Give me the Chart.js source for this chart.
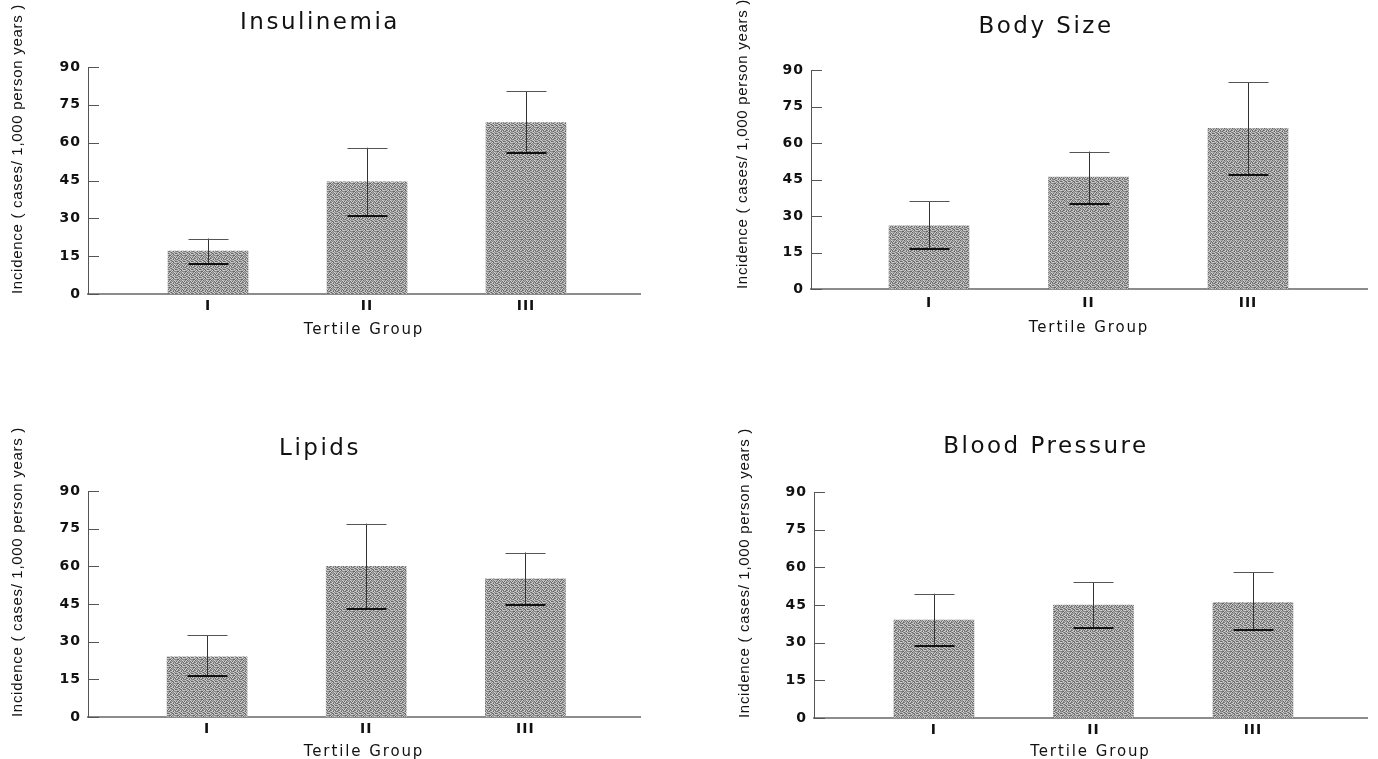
<!DOCTYPE html>
<html>
<head>
<meta charset="utf-8">
<script src="https://cdn.jsdelivr.net/npm/chart.js@4.4.1/dist/chart.umd.min.js"></script>
<style>
  html, body { margin: 0; padding: 0; background: #ffffff; }
  body { width: 1378px; height: 759px; position: relative; overflow: hidden; }
  .panel { position: absolute; }
  #p1 { left: 0px; top: 0px; width: 660px; height: 345px; }
  #p2 { left: 725px; top: 0px; width: 653px; height: 345px; }
  #p3 { left: 0px; top: 420px; width: 660px; height: 339px; }
  #p4 { left: 725px; top: 420px; width: 653px; height: 339px; }
</style>
</head>
<body>
<div class="panel" id="p1"><canvas id="c1"></canvas></div>
<div class="panel" id="p2"><canvas id="c2"></canvas></div>
<div class="panel" id="p3"><canvas id="c3"></canvas></div>
<div class="panel" id="p4"><canvas id="c4"></canvas></div>
<script>
// ---------------- DATA ----------------
const categories = ['I', 'II', 'III'];
const yTickValues = [0, 15, 30, 45, 60, 75, 90];
const yAxisTitle = 'Incidence ( cases/ 1,000 person years )';
const xAxisTitle = 'Tertile Group';

const insulinemiaTitle = 'Insulinemia';
const insulinemiaMean = [17, 44.5, 68];
const insulinemiaLow  = [12, 31, 56];
const insulinemiaHigh = [22, 58, 80.5];

const bodySizeTitle = 'Body Size';
const bodySizeMean = [26, 46, 66];
const bodySizeLow  = [16.5, 35, 47];
const bodySizeHigh = [36, 56.5, 85];

const lipidsTitle = 'Lipids';
const lipidsMean = [24, 60, 55];
const lipidsLow  = [16.5, 43, 44.5];
const lipidsHigh = [32.5, 77, 65.5];

const bloodPressureTitle = 'Blood Pressure';
const bloodPressureMean = [39, 45, 46];
const bloodPressureLow  = [28.5, 36, 35];
const bloodPressureHigh = [49.5, 54, 58];

// ---------------- STYLE HELPERS ----------------
const DITHER = [
  '21302132',
  '03121203',
  '32013120',
  '10232031',
  '23102312',
  '01320130',
  '32213023',
  '10031211'
];
const SHADES = ['#666666', '#888888', '#adadad', '#d0d0d0'];
function makePattern() {
  const c = document.createElement('canvas');
  c.width = 8; c.height = 8;
  const g = c.getContext('2d');
  for (let r = 0; r < 8; r++) {
    for (let k = 0; k < 8; k++) {
      g.fillStyle = SHADES[+DITHER[r][k]];
      g.fillRect(k, r, 1, 1);
    }
  }
  return g.createPattern(c, 'repeat');
}
const barFill = makePattern();

const spacingPlugin = {
  id: 'spacing',
  beforeDraw(chart) {
    const ctx = chart.ctx;
    if (ctx.__patched) return;
    const orig = ctx.fillText;
    ctx.fillText = function (text, x, y, maxWidth) {
      const f = this.font;
      let ls = '0px';
      if (/23px/.test(f)) ls = '2.5px';
      else if (/15px/.test(f) && !/bold/.test(f) && /DejaVu/.test(f)) ls = '1.9px';
      else if (/14px/.test(f) && /bold/.test(f)) ls = '1px';
      else if (/15px/.test(f)) ls = '0.7px';
      this.letterSpacing = ls;
      if (maxWidth === undefined) return orig.call(this, text, x, y);
      return orig.call(this, text, x, y, maxWidth);
    };
    ctx.__patched = true;
  }
};

const errorBarPlugin = {
  id: 'errorBars',
  afterDatasetsDraw(chart) {
    const { ctx, scales: { x, y }, chartArea } = chart;
    const low = chart.options.plugins.errorBars.low;
    const high = chart.options.plugins.errorBars.high;
    ctx.save();
    // inward y tick marks
    ctx.strokeStyle = '#555';
    ctx.lineWidth = 1;
    y.ticks.forEach((t, i) => {
      const py = Math.round(y.getPixelForTick(i)) + 0.5;
      ctx.beginPath();
      ctx.moveTo(chartArea.left, py);
      ctx.lineTo(chartArea.left + 11, py);
      ctx.stroke();
    });
    for (let i = 0; i < categories.length; i++) {
      const cx = Math.round(x.getPixelForValue(i + 1)) + 0.5;
      const yl = y.getPixelForValue(low[i]);
      const yh = y.getPixelForValue(high[i]);
      ctx.strokeStyle = '#333';
      ctx.lineWidth = 1;
      ctx.beginPath();
      ctx.moveTo(cx, yl); ctx.lineTo(cx, yh);
      ctx.stroke();
      ctx.strokeStyle = '#555';
      ctx.beginPath();
      ctx.moveTo(cx - 20, Math.round(yh) + 0.5); ctx.lineTo(cx + 20, Math.round(yh) + 0.5);
      ctx.stroke();
      ctx.strokeStyle = '#111';
      ctx.lineWidth = 2;
      ctx.beginPath();
      ctx.moveTo(cx - 20, Math.round(yl)); ctx.lineTo(cx + 20, Math.round(yl));
      ctx.stroke();
    }
    ctx.restore();
  }
};

function makeChart(id, cfg) {
  const data = categories.map((c, i) => ({ x: i + 1, y: cfg.mean[i] }));
  return new Chart(document.getElementById(id), {
    type: 'bar',
    data: {
      datasets: [{
        data: data,
        backgroundColor: barFill,
        borderWidth: 0,
        barThickness: 80
      }]
    },
    plugins: [spacingPlugin, errorBarPlugin],
    options: {
      responsive: true,
      maintainAspectRatio: false,
      animation: false,
      events: [],
      layout: { padding: { left: 0, right: cfg.padRight, top: 0, bottom: 0 } },
      plugins: {
        legend: { display: false },
        tooltip: { enabled: false },
        title: {
          display: true,
          text: cfg.title,
          color: '#111',
          font: { family: 'DejaVu Sans', size: 23, weight: 'normal', lineHeight: 1.2 },
          padding: { top: cfg.titleTop, bottom: cfg.titleBottom }
        },
        errorBars: { low: cfg.low, high: cfg.high }
      },
      scales: {
        x: {
          type: 'linear',
          offset: false,
          min: cfg.xMin,
          max: cfg.xMax,
          grid: { display: false, drawTicks: false, offset: false },
          border: { display: true, color: '#8c8c8c', width: 2 },
          afterBuildTicks: (s) => { s.ticks = categories.map((c, i) => ({ value: i + 1 })); },
          afterFit: (s) => { s.height = cfg.xHeight; },
          ticks: {
            color: '#111',
            padding: cfg.xTickPad,
            font: { family: 'DejaVu Sans', size: 14, weight: 'bold', lineHeight: 1.2 },
            callback: (v) => categories[Math.round(v) - 1] || '',
            maxRotation: 0
          },
          title: {
            display: true,
            text: xAxisTitle,
            color: '#111',
            font: { family: 'DejaVu Sans', size: 15, weight: 'normal', lineHeight: 1 },
            padding: { top: 0, bottom: cfg.xTitlePad }
          }
        },
        y: {
          min: 0,
          max: 90,
          grid: { display: false, drawTicks: false },
          border: { display: true, color: '#555', width: 1 },
          afterBuildTicks: (s) => { s.ticks = yTickValues.map(v => ({ value: v })); },
          afterFit: (s) => { s.width = cfg.yWidth; },
          ticks: {
            color: '#111',
            padding: 7,
            font: { family: 'DejaVu Sans', size: 14, weight: 'bold', lineHeight: 1.2 }
          },
          title: {
            display: true,
            text: yAxisTitle,
            align: 'start',
            color: '#111',
            font: { family: 'Liberation Sans', size: 15, weight: 'normal', lineHeight: 1 },
            padding: { top: cfg.yTitlePad, bottom: 0 }
          }
        }
      }
    }
  });
}

makeChart('c1', {
  title: insulinemiaTitle, mean: insulinemiaMean, low: insulinemiaLow, high: insulinemiaHigh,
  xMin: 0.245, xMax: 3.717, padRight: 20, yWidth: 88,
  titleTop: 9.3, titleBottom: 30.1, xHeight: 51, xTickPad: 4, xTitlePad: 7.5, yTitlePad: 10.5
});
makeChart('c2', {
  title: bodySizeTitle, mean: bodySizeMean, low: bodySizeLow, high: bodySizeHigh,
  xMin: 0.26, xMax: 3.746, padRight: 11, yWidth: 86,
  titleTop: 13.3, titleBottom: 29.1, xHeight: 56, xTickPad: 6, xTitlePad: 9.5, yTitlePad: 10.5
});
makeChart('c3', {
  title: lipidsTitle, mean: lipidsMean, low: lipidsLow, high: lipidsHigh,
  xMin: 0.252, xMax: 3.72, padRight: 20, yWidth: 88,
  titleTop: 15.3, titleBottom: 28.1, xHeight: 42, xTickPad: 4, xTitlePad: -0.5, yTitlePad: 10.5
});
makeChart('c4', {
  title: bloodPressureTitle, mean: bloodPressureMean, low: bloodPressureLow, high: bloodPressureHigh,
  xMin: 0.248, xMax: 3.715, padRight: 11, yWidth: 89,
  titleTop: 13.3, titleBottom: 31.1, xHeight: 41, xTickPad: 4, xTitlePad: -0.5, yTitlePad: 12
});
</script>
</body>
</html>
